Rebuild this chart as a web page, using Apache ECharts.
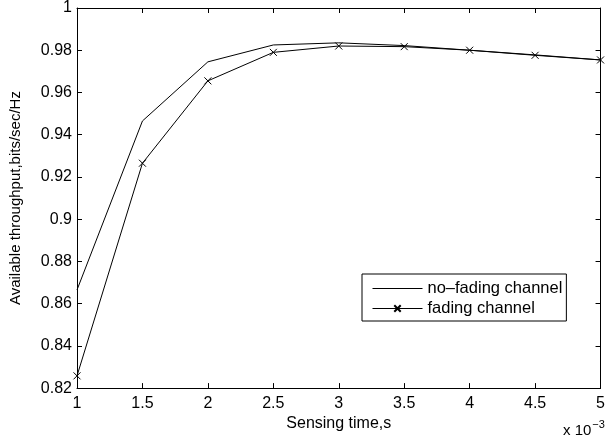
<!DOCTYPE html>
<html>
<head>
<meta charset="utf-8">
<script src="https://cdn.jsdelivr.net/npm/echarts@6/dist/echarts.min.js"></script>
<style>html,body{margin:0;padding:0;background:#fff}#c{width:608px;height:437px}</style>
</head>
<body>
<div id="c"></div>
<script>
const sensingTime = [1, 1.5, 2, 2.5, 3, 3.5, 4, 4.5, 5];
const noFading = [0.8665, 0.9465, 0.9745, 0.9825, 0.9835, 0.9822, 0.9800, 0.9778, 0.9754];
const fading = [0.8258, 0.9265, 0.9655, 0.9790, 0.9820, 0.9817, 0.9800, 0.9776, 0.9754];
const xTicks = ['1', '1.5', '2', '2.5', '3', '3.5', '4', '4.5', '5'];
const yTicks = ['0.82', '0.84', '0.86', '0.88', '0.9', '0.92', '0.94', '0.96', '0.98', '1'];
const names = ['no\u2013fading channel', 'fading channel'];

const font = 'Liberation Sans, Arial, Helvetica, sans-serif';
const chart = echarts.init(document.getElementById('c'));
const pair = (xs, ys) => xs.map((x, i) => [x, ys[i]]);
const axBase = {
  type: 'value',
  axisLine: { show: true, onZero: false, lineStyle: { color: '#000', width: 1 } },
  axisTick: { show: true, inside: true, length: 5, lineStyle: { color: '#000' } },
  splitLine: { show: false }
};
chart.setOption({
  animation: false,
  backgroundColor: '#fff',
  grid: { left: 67, right: 1, top: 8, bottom: 48 },
  xAxis: [
    Object.assign({}, axBase, {
      min: 1, max: 5, interval: 0.5, position: 'bottom',
      name: 'Sensing time,s', nameLocation: 'middle', nameGap: 15,
      nameTextStyle: { fontFamily: font, fontSize: 16, color: '#000' },
      axisLabel: { margin: 7, fontFamily: font, fontSize: 16, color: '#000',
        formatter: v => { const i = Math.round((v - 1) / 0.5); return xTicks[i] !== undefined ? xTicks[i] : ''; } }
    }),
    Object.assign({}, axBase, { min: 1, max: 5, interval: 0.5, position: 'top', axisLabel: { show: false } })
  ],
  yAxis: [
    Object.assign({}, axBase, {
      min: 0.82, max: 1, interval: 0.02, position: 'left',
      name: 'Available throughput,bits/sec/Hz', nameLocation: 'middle', nameGap: 54,
      nameTextStyle: { fontFamily: font, fontSize: 15, color: '#000' },
      axisLabel: { margin: 5, fontFamily: font, fontSize: 16, color: '#000',
        formatter: v => { const i = Math.round((v - 0.82) / 0.02); return yTicks[i] !== undefined ? yTicks[i] : ''; } }
    }),
    Object.assign({}, axBase, { min: 0.82, max: 1, interval: 0.02, position: 'right', axisLabel: { show: false } })
  ],
  legend: {
    left: 362, top: 274, orient: 'vertical',
    backgroundColor: '#fff', borderColor: '#000', borderWidth: 1, borderRadius: 0,
    padding: [6, 4, 4, 10], itemGap: 3, itemWidth: 50, itemHeight: 8,
    lineStyle: { width: 1, color: '#000' },
    textStyle: { fontFamily: font, fontSize: 16.5, lineHeight: 16, color: '#000' },
    data: [
      { name: names[0], itemStyle: { color: 'transparent', borderWidth: 0 } },
      { name: names[1] }
    ]
  },
  series: [
    {
      name: names[0], type: 'line', data: pair(sensingTime, noFading),
      symbol: 'circle', showSymbol: false, symbolSize: 0,
      lineStyle: { color: '#000', width: 1 }, itemStyle: { color: 'transparent', borderWidth: 0 }
    },
    {
      name: names[1], type: 'line', data: pair(sensingTime, fading),
      symbol: 'path://M0,0L10,10M10,0L0,10', symbolSize: 7,
      lineStyle: { color: '#000', width: 1 },
      itemStyle: { color: 'transparent', borderColor: '#000', borderWidth: 1 }
    }
  ],
  graphic: [
    { type: 'text', left: 563, top: 419,
      style: { text: '{a|x 10}{b|\u22123}', rich: {
        a: { fontFamily: font, fontSize: 15, fill: '#000', padding: [8, 0, 0, 0] },
        b: { fontFamily: font, fontSize: 11, fill: '#000', padding: [0, 0, 4, 1] } } } }
  ]
});
</script>
</body>
</html>
